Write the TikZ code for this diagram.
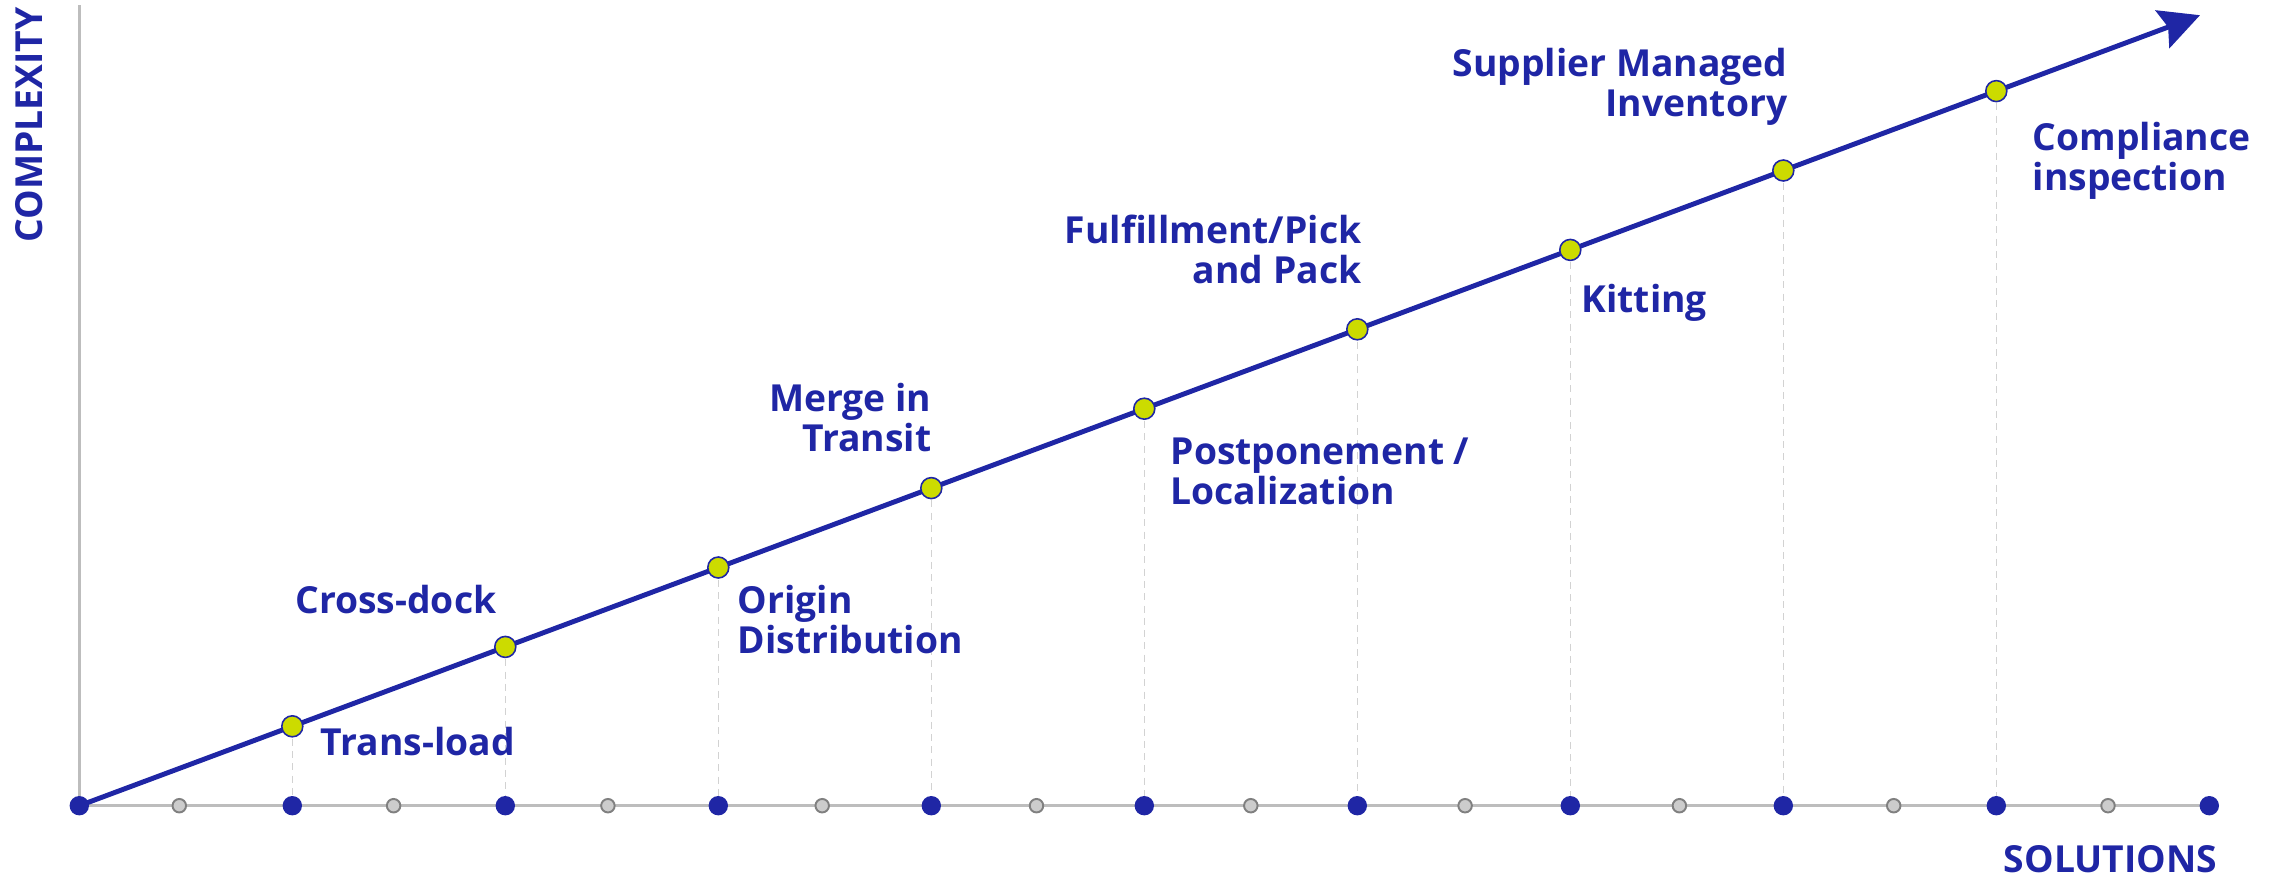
\documentclass[tikz,border=0pt]{standalone}
\usepackage{fontspec}
\setmainfont{Open Sans}
\usetikzlibrary{arrows.meta}

\definecolor{navy}{HTML}{1F26A5}
\definecolor{lime}{HTML}{CCDB00}
\definecolor{axisgray}{HTML}{BDBDBD}
\definecolor{dashgray}{HTML}{D2D2D2}

\tikzset{
  tag/.style={font=\fontsize{10.6pt}{11.4pt}\selectfont\bfseries, text=navy, inner sep=0pt, align=left},
  tagr/.style={tag, align=right},
  major/.style={circle, fill=navy, inner sep=0pt, minimum size=1.94mm},
  minor/.style={circle, fill=black!20, draw=black!50, line width=0.55pt, inner sep=0pt, minimum size=1.35mm},
  solpt/.style={circle, fill=lime, draw=navy, line width=0.45pt, inner sep=0pt, minimum size=2.1mm},
}

\begin{document}
\begin{tikzpicture}
\useasboundingbox (-0.793,-0.733) rectangle (21.997,8.057);
\foreach \i in {0,...,10} {\coordinate (t\i) at (\i*2.13,0);}
\foreach \i in {1,...,9} {\coordinate (p\i) at (\i*2.13,\i*0.794);}
\coordinate (ytop) at (0,8.007);
\coordinate (tip) at (21.207,7.905);

\draw[axisgray, line width=0.85pt] (ytop) -- (t0) -- (t10);
\foreach \i in {1,...,9} {\draw[dashgray, line width=0.4pt, dash pattern=on 2pt off 1.5pt] (p\i) -- (t\i);}
\draw[navy, line width=1.4pt, -{Stealth[length=4mm, width=4mm, inset=0.6mm]}] (t0) -- (tip);

\foreach \i in {0,...,9} {\node[minor] (h\i) at (1.0+\i*2.143,0) {};}
\foreach \i in {0,...,10} {\node[major] (b\i) at (t\i) {};}
\foreach \i in {1,...,9} {\node[solpt] (s\i) at (p\i) {};}

\node[tag, anchor=base west] (trans) at (2.407,0.507) {Trans-load};
\node[tagr, anchor=base east] (cross) at (4.177,1.927) {Cross-dock};
\node[tag, anchor=base west] (origin) at (6.577,1.526) {Origin\\Distribution};
\node[tagr, anchor=base east] (merge) at (8.527,3.546) {Merge in\\Transit};
\node[tag, anchor=base west] (postpone) at (10.907,3.016) {Postponement /\\Localization};
\node[tagr, anchor=base east] (fulfil) at (12.827,5.226) {Fulfillment/Pick\\and Pack};
\node[tag, anchor=base west] (kitting) at (15.017,4.937) {Kitting};
\node[tagr, anchor=base east] (supplier) at (17.087,6.896) {Supplier Managed\\Inventory};
\node[tag, anchor=base west] (comply) at (19.527,6.156) {Compliance\\inspection};

\node[tag, anchor=base east] (xlabel) at (21.387,-0.663) {SOLUTIONS};
\node[tag, anchor=base, rotate=90] (ylabel) at (-0.363,6.807) {COMPLEXITY};
\end{tikzpicture}
\end{document}
